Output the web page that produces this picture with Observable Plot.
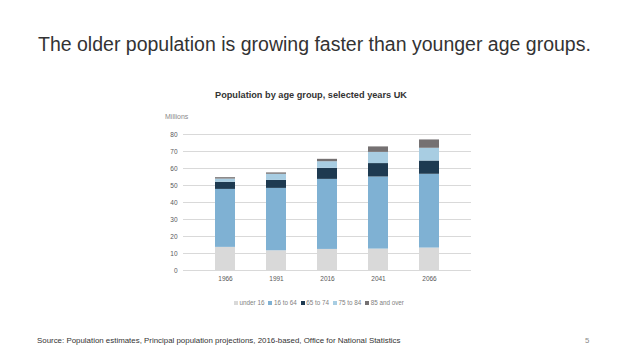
<!DOCTYPE html>
<html>
<head>
<meta charset="utf-8">
<script src="https://cdn.jsdelivr.net/npm/d3@7"></script>
<script src="https://cdn.jsdelivr.net/npm/@observablehq/plot@0.6"></script>
<style>
  html, body { margin: 0; padding: 0; background: #fff; }
  #page { position: relative; width: 638px; height: 359px; overflow: hidden; font-family: "Liberation Sans", Arial, sans-serif; }
  #title { position: absolute; left: 38px; top: 33px; font-size: 19.5px; color: #333; white-space: nowrap; }
  #ctitle { position: absolute; left: 0; width: 622px; text-align: center; top: 90px; font-size: 9.2px; font-weight: bold; color: #333; white-space: nowrap; }
  #millions { position: absolute; left: 165px; top: 113px; font-size: 7px; color: #8a8a8a; }
  #chart { position: absolute; left: 0; top: 0; }
  #legend { position: absolute; left: 0; width: 638px; top: 299px; text-align: center; font-size: 6.3px; color: #7f7f7f; white-space: nowrap; padding-left: 0; }
  #legend span.item { margin: 0 2px; }
  #legend span.sw { display: inline-block; width: 4px; height: 4px; margin-right: 1.5px; vertical-align: 0px; }
  #source { position: absolute; left: 37px; top: 336px; font-size: 7.9px; color: #333; white-space: nowrap; }
  #pnum { position: absolute; left: 585px; top: 336px; font-size: 7.8px; color: #888; }
</style>
</head>
<body>
<div id="page">
  <div id="chart"></div>
  <div id="title">The older population is growing faster than younger age groups.</div>
  <div id="ctitle">Population by age group, selected years UK</div>
  <div id="millions">Millions</div>
  <div id="legend"></div>
  <div id="source">Source: Population estimates, Principal population projections, 2016-based, Office for National Statistics</div>
  <div id="pnum">5</div>
</div>
<script>
const years = ["1966", "1991", "2016", "2041", "2066"];
const groups = ["under 16", "16 to 64", "65 to 74", "75 to 84", "85 and over"];
const colors = ["#d9d9d9", "#7fb1d3", "#1e3a51", "#a8cde2", "#757172"];
const under16 = [13.6, 11.6, 12.4, 12.6, 13.2];
const age16to64 = [34.1, 36.7, 41.2, 42.4, 43.4];
const age65to74 = [4.2, 4.7, 6.5, 7.9, 7.8];
const age75to84 = [1.9, 3.6, 3.9, 6.6, 7.5];
const age85plus = [0.8, 0.8, 1.4, 3.2, 4.9];
const yTicks = [0, 10, 20, 30, 40, 50, 60, 70, 80];

const series = [under16, age16to64, age65to74, age75to84, age85plus];
const data = [];
years.forEach((y, i) => {
  groups.forEach((g, j) => data.push({year: y, group: g, value: series[j][i]}));
});

const chart = Plot.plot({
  width: 638,
  height: 359,
  marginLeft: 183,
  marginRight: 167,
  marginTop: 134,
  marginBottom: 89,
  style: {fontFamily: "'Liberation Sans', Arial, sans-serif", fontSize: "6.5px", color: "#595959", background: "transparent"},
  x: {domain: years, padding: 0.6, label: null},
  y: {domain: [0, 80], label: null},
  color: {domain: groups, range: colors},
  marks: [
    Plot.gridY(yTicks, {stroke: "#d9d9d9", strokeOpacity: 1}),
    Plot.barY(data, {x: "year", y: "value", fill: "group", order: groups}),
    Plot.ruleY([0], {stroke: "#d9d9d9"}),
    Plot.axisY(yTicks, {tickSize: 0, tickPadding: 6, label: null, fill: "#595959"}),
    Plot.axisX({tickSize: 0, tickPadding: 6, label: null, fill: "#595959"})
  ]
});
document.getElementById("chart").appendChild(chart);

const legend = document.getElementById("legend");
groups.forEach((g, i) => {
  const item = document.createElement("span");
  item.className = "item";
  const sw = document.createElement("span");
  sw.className = "sw";
  sw.style.background = colors[i];
  item.appendChild(sw);
  item.appendChild(document.createTextNode(g));
  legend.appendChild(item);
});
</script>
</body>
</html>
